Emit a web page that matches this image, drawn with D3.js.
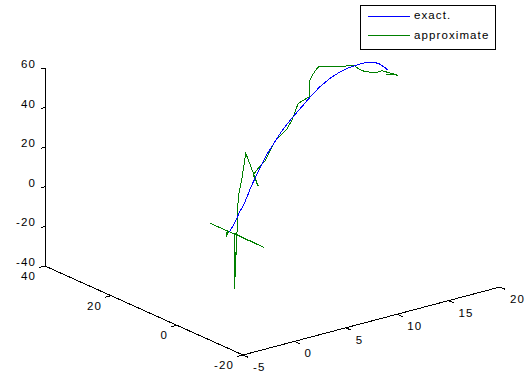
<!DOCTYPE html>
<meta charset="utf-8">
<style>
  body { margin: 0; background: #fff; }
  text { font-family: "Liberation Sans", Arial, sans-serif; font-size: 11.5px; letter-spacing: 1.1px; fill: #000; }
</style>
<svg width="530" height="384"></svg>
<script src="https://cdn.jsdelivr.net/npm/d3@7"></script>
<script>
// tick values
var xTicks = [-5, 0, 5, 10, 15, 20];
var yTicks = [-20, 0, 20, 40];
var zTicks = [-40, -20, 0, 20, 40, 60];
var seriesNames = ["exact.", "approximate"];

// exact solution
var exactX = [3.3, 3.7, 4.0, 4.3, 4.7, 5.1, 5.4, 5.8, 6.1, 6.5, 6.9, 7.6, 8.1, 8.6, 9.5, 10.5, 11.2, 12.1, 13.1, 14.1, 15.0, 16.0, 16.7, 17.2, 17.8, 18.3, 18.7];
var exactY = [10, 10, 10, 10, 10, 10, 10, 10, 10, 10, 10, 10, 10, 10, 10, 10, 10, 10, 10, 10, 10, 10, 10, 10, 10, 10, 10];
var exactZ = [-11.7, -8.8, -6.2, -2.9, 0.0, 4.5, 8.1, 11.9, 14.8, 18.3, 22.1, 26.8, 30.2, 33.4, 37.9, 42.5, 45.8, 49.5, 52.4, 54.4, 55.3, 55.6, 55.6, 54.9, 53.5, 51.2, 49.0];

// approximate solution
var approxX = [3.3, 3.0, 3.0, 3.2, 3.2, 3.2, 3.8, 3.5, 3.9, 3.9, 4.0, 4.0, 4.1, 4.2, 4.5, 4.9, 6.1, 5.6, 6.1, 6.8, 7.7, 8.9, 9.4, 9.7, 10.0, 10.8, 11.1, 11.1, 11.3, 11.6, 12.0, 15.5, 15.9, 16.5, 17.6, 18.1, 18.5, 19.7, 18.5];
var approxY = [10, 10, 10, 10, 15.7, -0.9, 10, 9, 10, 10, 10, 10, 10, 10, 10, 10, 10, 10, 10, 10, 10, 10, 10, 10, 10, 10, 10, 10, 10, 10, 10, 10, 10, 10, 10, 10, 10, 10, 10];
var approxZ = [-11.7, -11.9, -13.9, -11.3, -11.3, -11.3, -13.2, -40, -22.7, -35.3, -13.2, -22.7, -1.7, 5.6, 12.9, 25.8, 7.8, 13.8, 16.5, 19.5, 27.8, 32.5, 36.5, 40.2, 44.0, 45.4, 45.9, 53.5, 55.7, 57.8, 59.9, 55.4, 53.3, 51.1, 49.0, 49.4, 48.3, 44.9, 47.2];

var svg = d3.select("svg");

// box corner (x=-5, y=-20, z=-40) and the screen vectors of the three axes
var origin = [243, 355];
var ex = [257, -68], ey = [-198, -89], ez = [0, -198];

var x = d3.scaleLinear().domain([-5, 20]).range([0, 1]);
var y = d3.scaleLinear().domain([-20, 40]).range([0, 1]);
var z = d3.scaleLinear().domain([-40, 60]).range([0, 1]);

function proj(a, b, c) {
  var u = x(a), v = y(b), w = z(c);
  return [origin[0] + u * ex[0] + v * ey[0] + w * ez[0],
          origin[1] + u * ex[1] + v * ey[1] + w * ez[1]];
}

var axes = svg.append("g").attr("stroke", "#000").attr("stroke-width", 1)
  .attr("shape-rendering", "crispEdges");

function seg(p, q) {
  axes.append("line").attr("x1", p[0]).attr("y1", p[1]).attr("x2", q[0]).attr("y2", q[1]);
}

var xd = x.domain(), yd = y.domain(), zd = z.domain();
seg(proj(xd[0], yd[0], zd[0]), proj(xd[1], yd[0], zd[0]));
seg(proj(xd[0], yd[1], zd[0]), proj(xd[0], yd[0], zd[0]));
seg(proj(xd[0], yd[1], zd[0]), proj(xd[0], yd[1], zd[1]));

xTicks.forEach(function(t) {
  var p = proj(t, yd[0], zd[0]);
  seg(p, [p[0] + 5.5, p[1] + 2.5]);
  svg.append("text").attr("x", p[0] + 10).attr("y", p[1] + 13)
    .attr("dominant-baseline", "middle").attr("text-anchor", "start").text(t);
});
yTicks.forEach(function(t) {
  var p = proj(xd[0], t, zd[0]);
  seg(p, [p[0] - 5.8, p[1] + 1.5]);
  svg.append("text").attr("x", p[0] - 9).attr("y", p[1] + 11)
    .attr("dominant-baseline", "middle").attr("text-anchor", "end").text(t);
});
zTicks.forEach(function(t) {
  var p = proj(xd[0], yd[1], t);
  seg(p, [p[0] - 4, p[1] + 1]);
  svg.append("text").attr("x", p[0] - 9).attr("y", p[1] - 3)
    .attr("dominant-baseline", "middle").attr("text-anchor", "end").text(t);
});

var line = d3.line();

function pts(xs, ys, zs) {
  return xs.map(function(v, i) { return proj(v, ys[i], zs[i]); });
}

svg.append("path").attr("d", line(pts(approxX, approxY, approxZ)))
  .attr("fill", "none").attr("stroke", "#008000").attr("stroke-width", 1)
  .attr("shape-rendering", "crispEdges");
svg.append("path").attr("d", line(pts(exactX, exactY, exactZ)))
  .attr("fill", "none").attr("stroke", "#0000ff").attr("stroke-width", 1)
  .attr("shape-rendering", "crispEdges");

// legend
var colors = ["#0000ff", "#008000"];
var lg = svg.append("g");
lg.append("rect").attr("x", 360.5).attr("y", 5.5).attr("width", 135).attr("height", 44)
  .attr("fill", "#fff").attr("stroke", "#000");
seriesNames.forEach(function(n, i) {
  var yy = 16 + i * 19.5;
  lg.append("line").attr("x1", 368).attr("x2", 410).attr("y1", yy).attr("y2", yy)
    .attr("stroke", colors[i]).attr("shape-rendering", "crispEdges");
  lg.append("text").attr("x", 414).attr("y", yy).attr("dominant-baseline", "middle").text(n);
});
</script>
